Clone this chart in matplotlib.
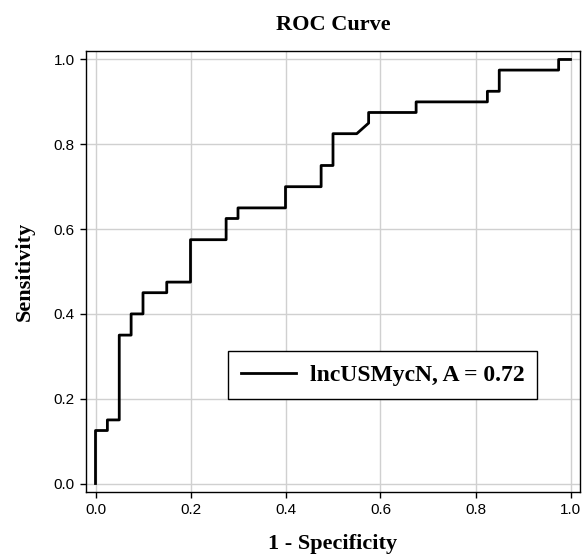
import matplotlib
matplotlib.use("Agg")
import matplotlib.pyplot as plt

# ROC curve points (1 - specificity, sensitivity)
fpr = [0.0, 0.0, 0.025, 0.025, 0.05, 0.05, 0.075, 0.075, 0.1, 0.1, 0.15, 0.15,
       0.2, 0.2, 0.275, 0.275, 0.3, 0.3, 0.4, 0.4, 0.475, 0.475, 0.5, 0.5,
       0.55, 0.575, 0.575, 0.675, 0.675, 0.825, 0.825, 0.85, 0.85, 0.975,
       0.975, 1.0]
tpr = [0.0, 0.125, 0.125, 0.15, 0.15, 0.35, 0.35, 0.4, 0.4, 0.45, 0.45, 0.475,
       0.475, 0.575, 0.575, 0.625, 0.625, 0.65, 0.65, 0.7, 0.7, 0.75, 0.75, 0.825,
       0.825, 0.85, 0.875, 0.875, 0.9, 0.9, 0.925, 0.925, 0.975, 0.975,
       1.0, 1.0]
marker_name = "lncUSMycN"
auc = 0.72
ticks = [0.0, 0.2, 0.4, 0.6, 0.8, 1.0]

serif = "Liberation Serif"
sans = "Liberation Sans"

fig = plt.figure(figsize=(5.82, 5.6), dpi=100)
ax = fig.add_axes([86 / 582, 1 - 492 / 560, 494 / 582, 441 / 560])

ax.plot(fpr, tpr, color="black", linewidth=2.0,
        label=f"{marker_name}, A = {auc:.2f}")

ax.set_xlim(-0.02, 1.02)
ax.set_ylim(-0.02, 1.02)
ax.set_xticks(ticks)
ax.set_yticks(ticks)
ax.set_xticklabels([f"{t:.1f}" for t in ticks], fontfamily=sans, fontsize=11)
ax.set_yticklabels([f"{t:.1f}" for t in ticks], fontfamily=sans, fontsize=11)
ax.tick_params(direction="out", length=4, width=1, color="black", pad=4)
ax.grid(True, color="#d0d0d0", linewidth=1)
ax.set_axisbelow(True)
for s in ax.spines.values():
    s.set_color("black")
    s.set_linewidth(1)

ax.set_title("ROC Curve", fontfamily=serif, fontweight="bold", fontsize=16, pad=15)
ax.set_xlabel("1 - Specificity", fontfamily=serif, fontweight="bold", fontsize=16,
              labelpad=12)
ax.set_ylabel("Sensitivity", fontfamily=serif, fontweight="bold", fontsize=16,
              labelpad=14)

leg = ax.legend(loc="center", bbox_to_anchor=(0.601, 0.265), fancybox=False,
                framealpha=1, edgecolor="black", handlelength=2.3,
                handletextpad=0.6, borderpad=0.55,
                prop={"family": serif, "weight": "bold", "size": 17})
leg.get_frame().set_linewidth(1)

fig.savefig("out.png", dpi=100)
